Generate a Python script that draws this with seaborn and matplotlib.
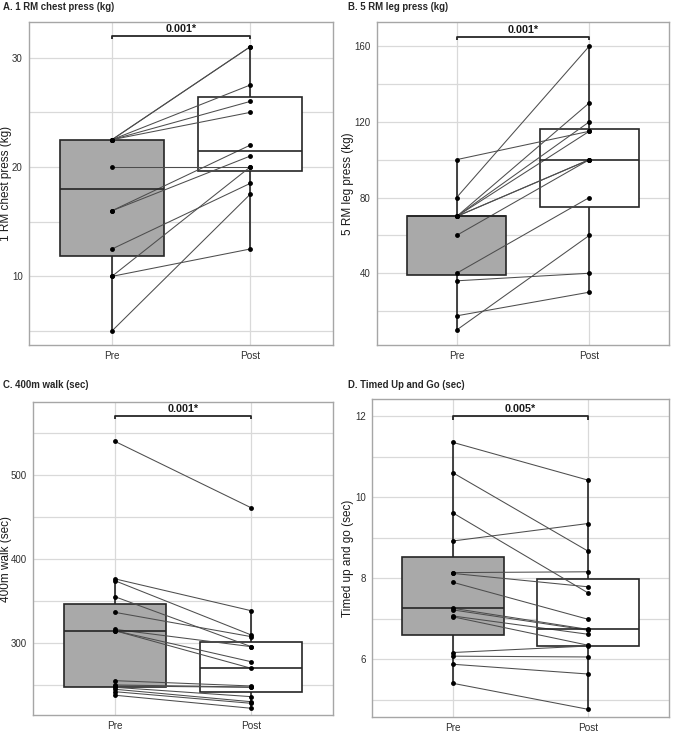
import pandas as pd
import seaborn as sns
import matplotlib.pyplot as plt
from matplotlib.ticker import MultipleLocator

sns.set_style('white')
plt.rcParams['font.family'] = ['Liberation Sans', 'DejaVu Sans']

# Data: one value per subject, pre and post (same order = same subject)
times = ['Pre', 'Post']

chest_pre = [22.5, 22.5, 22.5, 22.5, 22.5, 20, 16, 16, 12.5, 10, 10, 5]
chest_post = [31, 31, 27.5, 26, 25, 20, 22, 21, 18.5, 20, 12.5, 17.5]

leg_pre = [100, 80, 70, 70, 70, 70, 70, 60, 40, 36, 17.5, 10]
leg_post = [115, 160, 130, 120, 115, 100, 100, 100, 80, 40, 30, 60]

walk_pre = [540, 376.6, 374.4, 355.4, 336.8, 316.6, 315, 315, 255.6, 250.5,
            249.3, 247.7, 245.4, 242.5, 238.3]
walk_post = [461, 338.7, 309.9, 296, 307.9, 296, 278.1, 270.3, 249.3, 248,
             247.7, 236.6, 230.6, 228.7, 222.8]

tug_pre = [11.35, 10.6, 9.61, 8.92, 8.14, 8.12, 7.9, 7.26, 7.22, 7.07, 7.05,
           6.17, 6.08, 5.88, 5.41]
tug_post = [10.42, 8.67, 7.64, 9.35, 8.16, 7.79, 6.99, 6.74, 6.72, 6.62, 6.35,
            6.33, 6.06, 5.64, 4.77]

titles = ['A. 1 RM chest press (kg)', 'B. 5 RM leg press (kg)',
          'C. 400m walk (sec)', 'D. Timed Up and Go (sec)']
ylabels = ['1 RM chest press (kg)', '5 RM leg press (kg)',
           '400m walk (sec)', 'Timed up and go (sec)']
p_labels = ['0.001*', '0.001*', '0.001*', '0.005*']
bracket_y = [32, 165, 570, 12.0]

pre_sets = [chest_pre, leg_pre, walk_pre, tug_pre]
post_sets = [chest_post, leg_post, walk_post, tug_post]

# layout (pixels in a 676x739 figure): left, top, right, bottom
W, H = 676, 739
boxes_px = [(29, 22, 333, 345), (377, 22, 669, 345),
            (33, 402, 333, 715), (372, 399, 669, 717)]
title_px = [(3, 7), (348, 7), (3, 385), (348, 385)]
ylab_px = [6, 348, 6, 348]
ylims = [(3.72, 33.27), (2.1, 172.7), (214.8, 586.7), (4.58, 12.42)]
steps = [(10, 5), (40, 20), (100, 50), (2, 1)]

fig = plt.figure(figsize=(W / 100, H / 100), dpi=100)

for i in range(4):
    pre, post = pre_sets[i], post_sets[i]
    n = len(pre)
    df = pd.DataFrame({
        'subject': list(range(n)) * 2,
        'time': ['Pre'] * n + ['Post'] * n,
        'value': pre + post,
    })
    df['pos'] = df['time'].map({t: k for k, t in enumerate(times)})

    l, t, r, b = boxes_px[i]
    ax = fig.add_axes([l / W, 1 - b / H, (r - l) / W, (b - t) / H])

    sns.boxplot(data=df, x='time', y='value', order=times, hue='time',
                hue_order=times, palette={'Pre': '#a9a9a9', 'Post': 'white'},
                saturation=1, width=0.75, whis=1.5, showfliers=False,
                showcaps=False, linecolor='#262626', linewidth=1.2,
                legend=False, ax=ax)
    sns.lineplot(data=df, x='pos', y='value', units='subject', estimator=None,
                 color='#4d4d4d', linewidth=0.75, ax=ax)
    sns.stripplot(data=df, x='time', y='value', order=times, jitter=False,
                  color='black', size=3.5, ax=ax, zorder=5)

    # significance bracket
    lo, hi = ylims[i]
    by = bracket_y[i]
    tk = 0.011 * (hi - lo)
    ax.plot([0, 0, 1, 1], [by - tk, by, by, by - tk], color='#262626',
            linewidth=1.3, solid_capstyle='butt')
    ax.annotate(p_labels[i], xy=(0.5, by), xytext=(0, 1.2),
                textcoords='offset points', ha='center', va='bottom',
                fontsize=7.8, fontweight='bold', color='#1a1a1a')

    ax.set_xlim(-0.6, 1.6)
    ax.set_ylim(lo, hi)
    ax.set_xticks([0, 1])
    ax.set_xticklabels(times)
    ax.yaxis.set_major_locator(MultipleLocator(steps[i][0]))
    ax.yaxis.set_minor_locator(MultipleLocator(steps[i][1]))
    ax.set_axisbelow(True)
    ax.grid(True, which='major', color='#d9d9d9', linewidth=0.9)
    ax.grid(True, which='minor', axis='y', color='#d9d9d9', linewidth=0.9)
    ax.tick_params(axis='both', which='major', length=2.5, width=0.8,
                   color='#b3b3b3', labelcolor='#303030', pad=2)
    ax.tick_params(axis='y', which='major', labelsize=7.0)
    ax.tick_params(axis='x', which='major', labelsize=7.2)
    ax.tick_params(axis='y', which='minor', length=0)
    for sp in ax.spines.values():
        sp.set_color('#a6a6a6')
        sp.set_linewidth(1.0)
    ax.set_xlabel('')
    ax.set_ylabel('')

    fig.text(title_px[i][0] / W, 1 - title_px[i][1] / H, titles[i],
             ha='left', va='center', fontsize=6.9, fontweight='bold')
    fig.text(ylab_px[i] / W, 1 - ((t + b) / 2) / H, ylabels[i],
             rotation=90, ha='center', va='center', fontsize=8.5,
             color='#1a1a1a')

fig.savefig('out.png', dpi=100)
